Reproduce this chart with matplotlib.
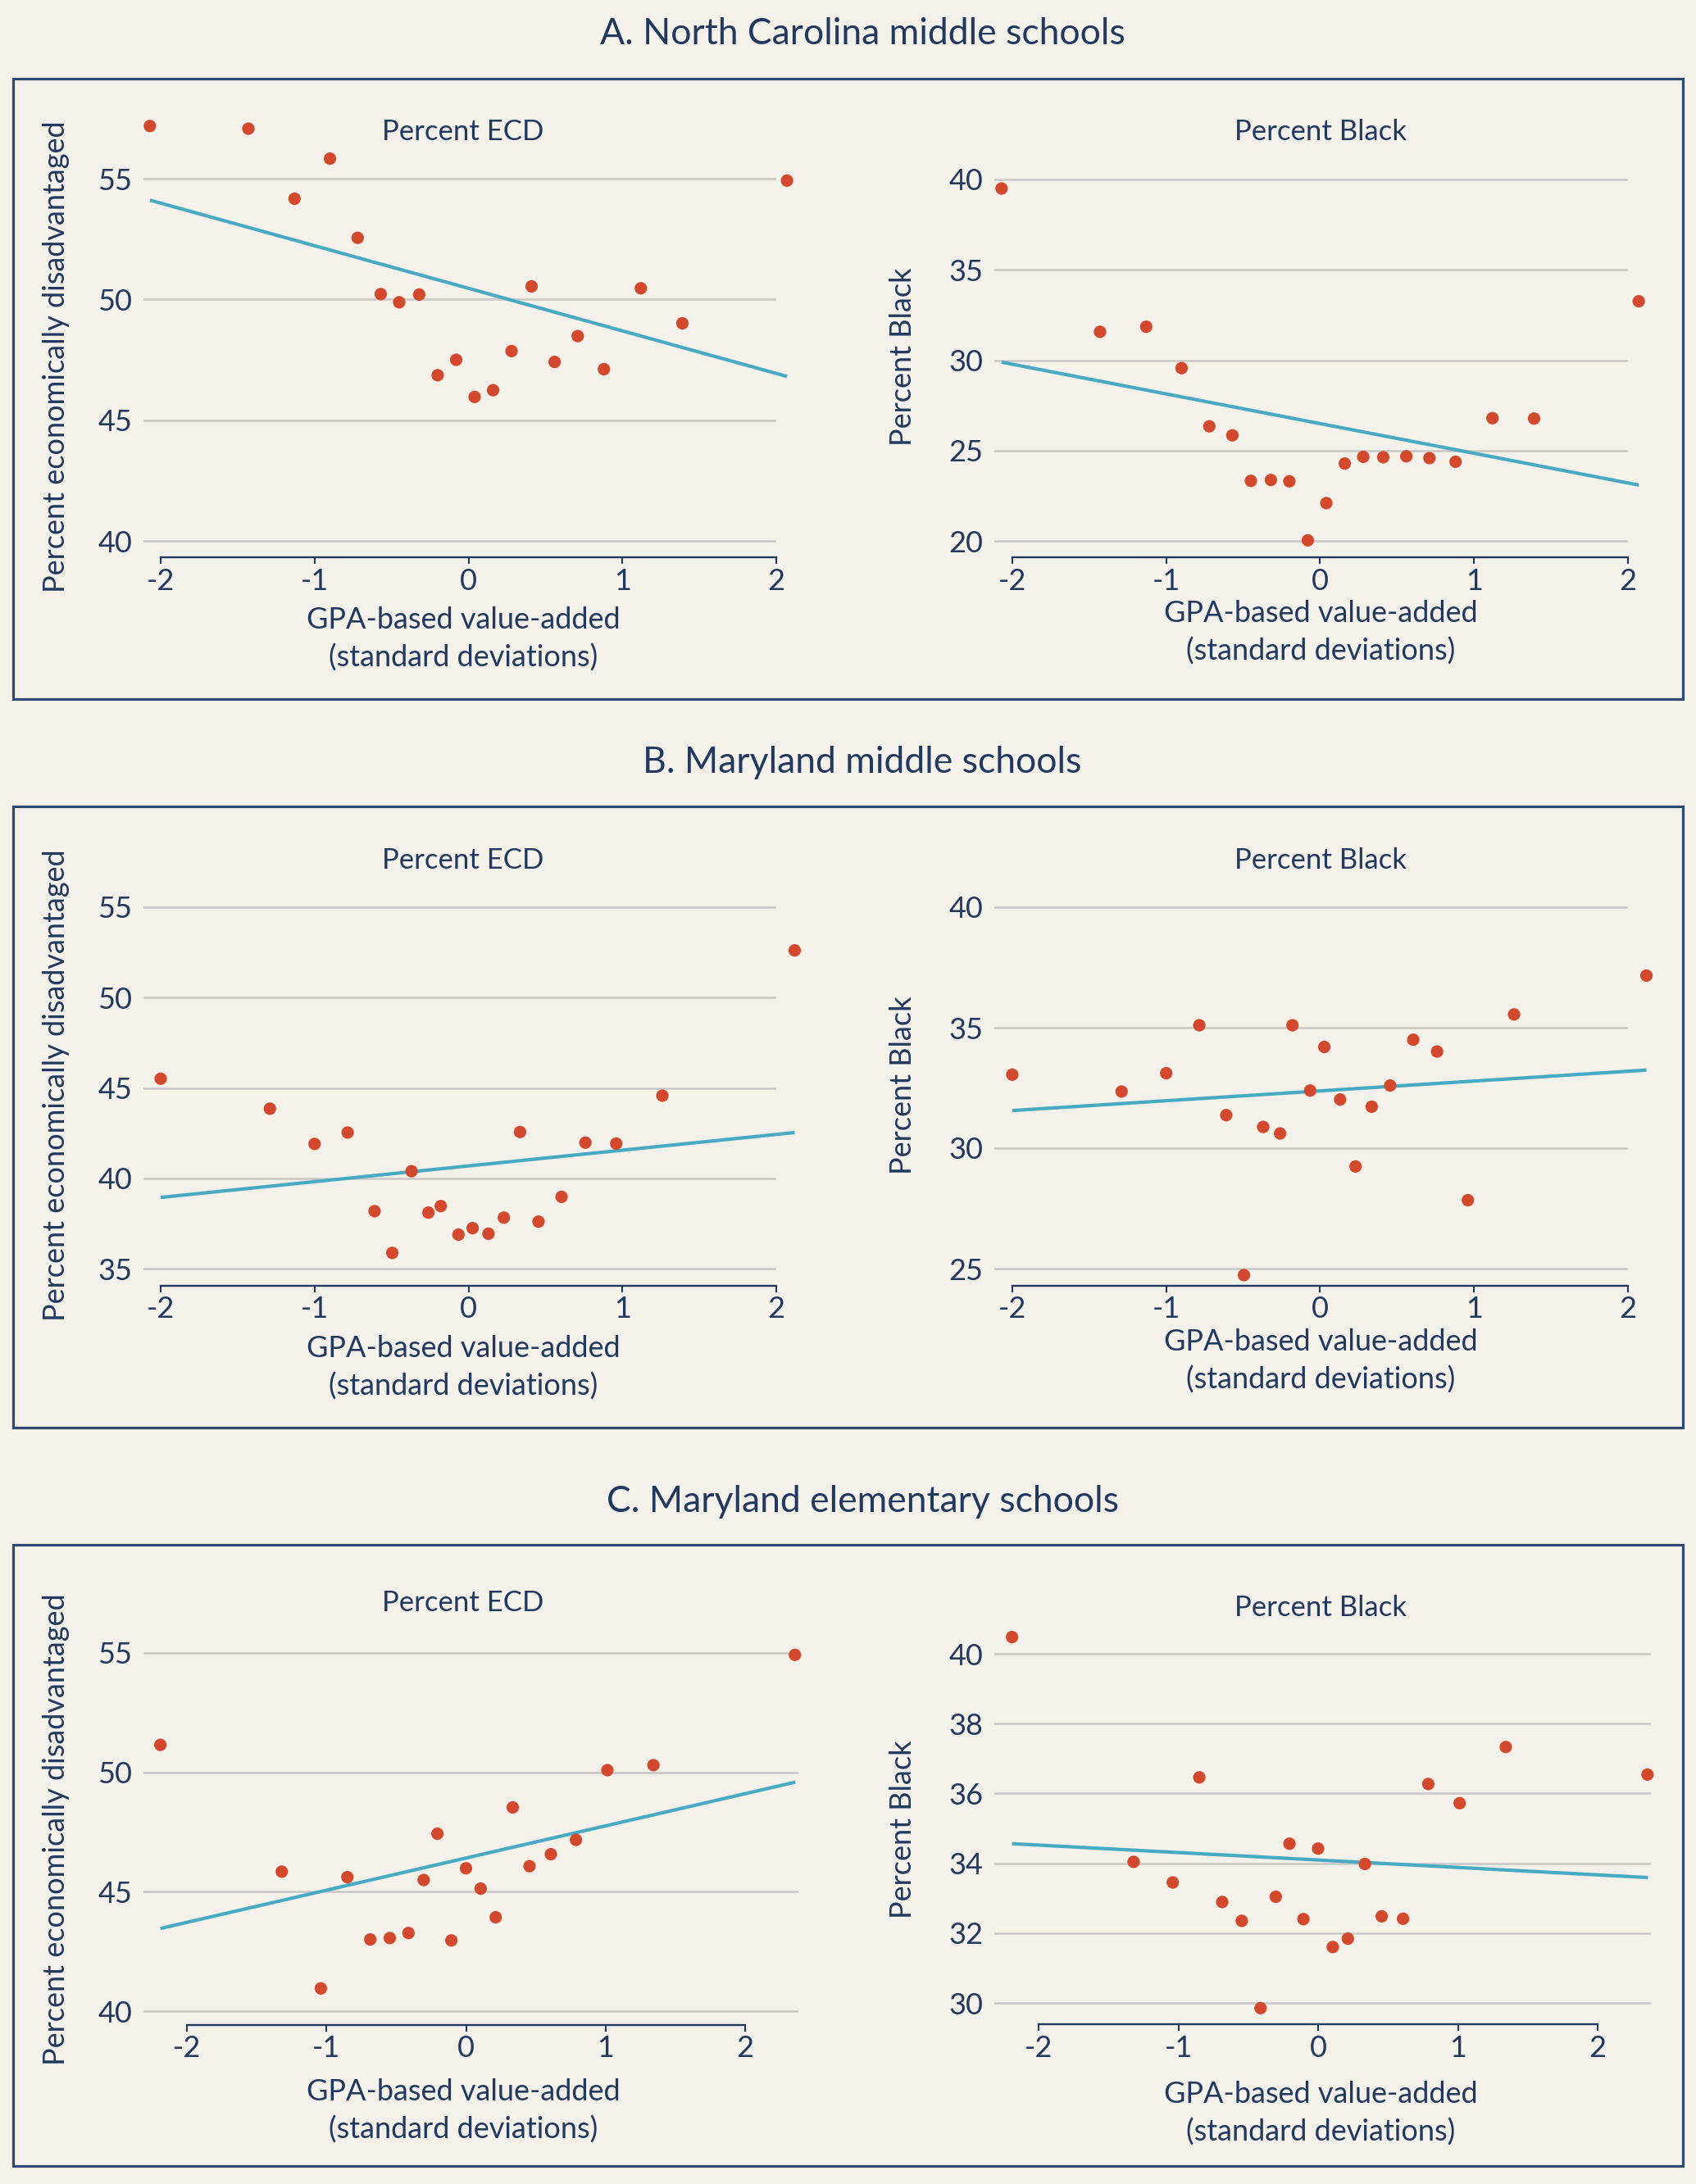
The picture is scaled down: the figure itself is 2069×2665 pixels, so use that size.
import matplotlib
matplotlib.use("Agg")
import matplotlib.pyplot as plt
from matplotlib.patches import Rectangle

# --- data (binned scatter, 20 bins per panel) ---
section_titles = ["A. North Carolina middle schools",
                  "B. Maryland middle schools",
                  "C. Maryland elementary schools"]
panel_titles = ["Percent ECD", "Percent Black"]
y_labels = ["Percent economically disadvantaged", "Percent Black"]
x_label = ["GPA-based value-added", "(standard deviations)"]
x_ticks = [-2, -1, 0, 1, 2]

nc_x = [-2.07, -1.43, -1.13, -0.90, -0.72, -0.57, -0.45, -0.32, -0.20, -0.08,
        0.04, 0.16, 0.28, 0.41, 0.56, 0.71, 0.88, 1.12, 1.39, 2.07]
nc_ecd = [57.18, 57.07, 54.17, 55.83, 52.55, 50.22, 49.88, 50.20, 46.86, 47.50,
          45.96, 46.24, 47.86, 50.54, 47.41, 48.48, 47.11, 50.46, 49.01, 54.92]
nc_black = [39.50, 31.57, 31.85, 29.56, 26.34, 25.84, 23.32, 23.37, 23.30, 20.03,
            22.09, 24.28, 24.65, 24.63, 24.68, 24.58, 24.38, 26.79, 26.77, 33.26]
nc_fit_x = [-2.07, 2.07]
nc_ecd_fit = [54.11, 46.81]
nc_black_fit = [29.89, 23.09]

md_ms_x = [-2.00, -1.29, -1.00, -0.785, -0.61, -0.495, -0.37, -0.26, -0.18, -0.065,
           0.027, 0.13, 0.23, 0.335, 0.455, 0.605, 0.76, 0.96, 1.26, 2.12]
md_ms_ecd = [45.51, 43.85, 41.90, 42.53, 38.18, 35.87, 40.39, 38.10, 38.46, 36.88,
             37.24, 36.93, 37.82, 42.56, 37.60, 38.97, 41.97, 41.92, 44.57, 52.61]
md_ms_black = [33.05, 32.35, 33.11, 35.10, 31.37, 24.73, 30.88, 30.61, 35.10, 32.39,
               34.20, 32.02, 29.24, 31.72, 32.60, 34.50, 34.01, 27.84, 35.55, 37.16]
md_ms_fit_x = [-2.00, 2.12]
md_ms_ecd_fit = [38.94, 42.53]
md_ms_black_fit = [31.56, 33.24]

md_es_x = [-2.19, -1.32, -1.04, -0.85, -0.686, -0.546, -0.412, -0.303, -0.205, -0.105,
           0.0, 0.105, 0.213, 0.335, 0.455, 0.608, 0.788, 1.013, 1.343, 2.357]
md_es_ecd = [51.15, 45.84, 40.95, 45.61, 43.00, 43.06, 43.27, 45.49, 47.43, 42.96,
             45.98, 45.13, 43.93, 48.53, 46.07, 46.57, 47.17, 50.09, 50.30, 54.92]
md_es_black = [40.48, 34.04, 33.45, 36.46, 32.89, 32.35, 29.85, 33.04, 34.56, 32.40,
               34.42, 31.60, 31.84, 33.98, 32.48, 32.41, 36.27, 35.72, 37.33, 36.54]
md_es_fit_x = [-2.19, 2.36]
md_es_ecd_fit = [43.46, 49.59]
md_es_black_fit = [34.56, 33.59]

ecd_ticks = [[40, 45, 50, 55], [35, 40, 45, 50, 55], [40, 45, 50, 55]]
black_ticks = [[20, 25, 30, 35, 40], [25, 30, 35, 40], [30, 32, 34, 36, 38, 40]]

# --- styling ---
W, H, DPI = 2069, 2665, 100
BG = "#F4F0EA"
NAVY = "#22395F"
DOT = "#D2492D"
FIT = "#47AAC2"
GRID = "#C8C8C8"
FONT = "Lato"

plt.rcParams["font.family"] = [FONT, "DejaVu Sans"]
plt.rcParams["axes.unicode_minus"] = False


def fx(px):
    return px / W


def fy(py):
    return 1 - py / H


# layout in pixels (top-left origin)
# (left, right, px at x=-2, px at x=2, y px of first tick, y px of last tick, bottom, top)
layout = [
    [(175, 947, 196, 947, 660, 218, 680, 140), (1213, 1986, 1235, 1988, 660, 219, 680, 140)],
    [(175, 947, 196, 947, 1548, 1107, 1569, 1030), (1213, 1986, 1235, 1988, 1548, 1107, 1569, 1030)],
    [(175, 974, 228, 909, 2454, 2017, 2471, 1940), (1213, 2014, 1267, 1949, 2444, 2018, 2470, 1940)],
]
boxes = [(16, 96, 2053, 853), (16, 984, 2053, 1742), (16, 1885, 2053, 2643)]
section_base = [54, 943, 1845]
sub_base = [(171, 171), (1060, 1060), (1966, 1972)]
xlab_base = [[(767, 814), (759, 806)], [(1656, 1703), (1648, 1695)], [(2563, 2610), (2566, 2613)]]
ylab_y = [435, 1324, 2232]
ylab_x = [69, 1101]
col_cx = [565, 1611]

fig = plt.figure(figsize=(W / DPI, H / DPI), dpi=DPI, facecolor=BG)

sections = [
    (nc_x, nc_ecd, nc_black, nc_fit_x, nc_ecd_fit, nc_black_fit),
    (md_ms_x, md_ms_ecd, md_ms_black, md_ms_fit_x, md_ms_ecd_fit, md_ms_black_fit),
    (md_es_x, md_es_ecd, md_es_black, md_es_fit_x, md_es_ecd_fit, md_es_black_fit),
]

for s, (xs, ecd, black, fit_x, ecd_fit, black_fit) in enumerate(sections):
    bl, bt, br, bb = boxes[s]
    fig.patches.append(Rectangle((fx(bl), fy(bb)), (br - bl) / W, (bb - bt) / H,
                                 transform=fig.transFigure, fill=False,
                                 edgecolor="#2C4A72", linewidth=2.3))
    fig.text(fx(1052), fy(section_base[s]), section_titles[s], ha="center",
             va="baseline", fontsize=32, color=NAVY)

    for c, (ys, fit_y, ticks) in enumerate([(ecd, ecd_fit, ecd_ticks[s]),
                                           (black, black_fit, black_ticks[s])]):
        left, right, xm2, xp2, ya_px, yb_px, bottom, top = layout[s][c]
        ax = fig.add_axes([fx(left), fy(bottom), (right - left) / W, (bottom - top) / H])
        ax.set_facecolor("none")

        ux = (xp2 - xm2) / 4.0
        ax.set_xlim(-2 + (left - xm2) / ux, -2 + (right - xm2) / ux)
        y0, y1 = ticks[0], ticks[-1]
        uy = (ya_px - yb_px) / (y1 - y0)
        ax.set_ylim(y0 - (bottom - ya_px) / uy, y1 + (yb_px - top) / uy)

        ax.yaxis.grid(True, color=GRID, linewidth=1.8)
        ax.set_axisbelow(True)
        for sp in ["top", "right", "left"]:
            ax.spines[sp].set_visible(False)
        ax.spines["bottom"].set_color(NAVY)
        ax.spines["bottom"].set_linewidth(1.7)
        ax.spines["bottom"].set_bounds(-2, 2)

        ax.set_xticks(x_ticks)
        ax.set_yticks(ticks)
        ax.tick_params(axis="x", direction="out", length=6, width=1.5, color=NAVY,
                       labelsize=26, labelcolor=NAVY, pad=3)
        ax.tick_params(axis="y", length=0, labelsize=26, labelcolor=NAVY, pad=10)

        ax.scatter(xs, ys, s=120, color=DOT, edgecolors="none", zorder=3, clip_on=False)
        ax.plot(fit_x, fit_y, color=FIT, linewidth=3.0, zorder=2, solid_capstyle="butt",
                clip_on=False)

        fig.text(fx(col_cx[c]), fy(sub_base[s][c]), panel_titles[c], ha="center",
                 va="baseline", fontsize=25, color=NAVY)
        for line, base in zip(x_label, xlab_base[s][c]):
            fig.text(fx(col_cx[c]), fy(base), line, ha="center", va="baseline",
                     fontsize=26, color=NAVY)
        fig.text(fx(ylab_x[c]), fy(ylab_y[s]), y_labels[c], ha="center", va="center",
                 rotation=90, fontsize=26, color=NAVY)

fig.savefig("out.png", dpi=DPI, facecolor=BG)
